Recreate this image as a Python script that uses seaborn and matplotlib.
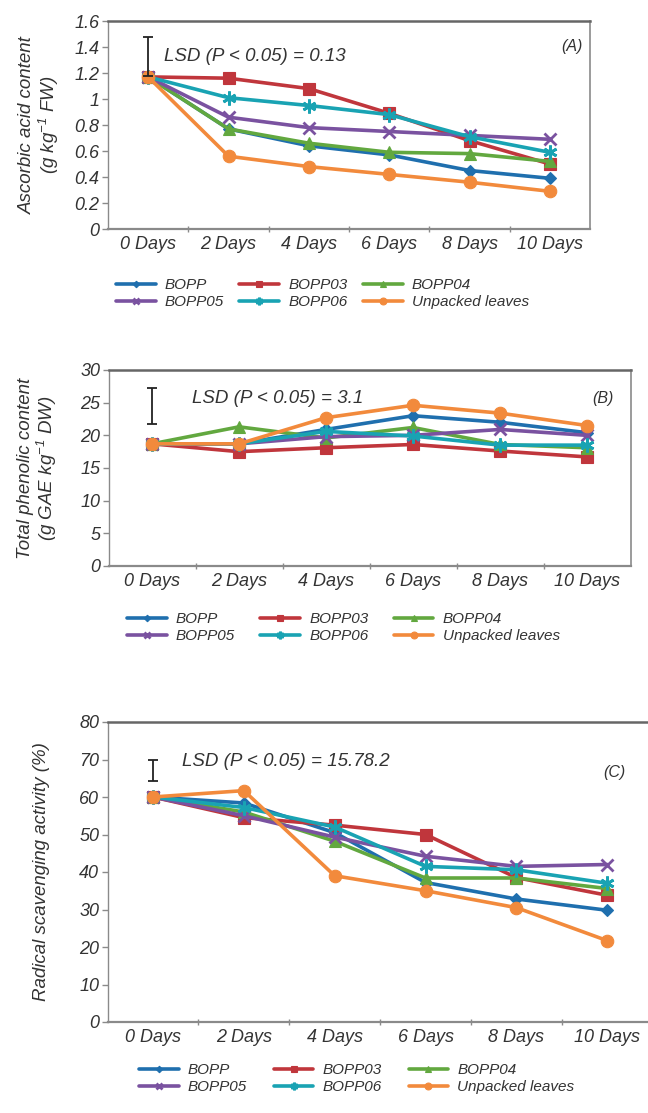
import matplotlib
matplotlib.use("Agg")
import matplotlib.pyplot as plt
from matplotlib import font_manager
import numpy as np
import pandas as pd
import seaborn as sns
from matplotlib.ticker import FixedLocator, FuncFormatter

# ---------------- data ----------------
days = ["0 Days", "2 Days", "4 Days", "6 Days", "8 Days", "10 Days"]
treatments = ["BOPP", "BOPP03", "BOPP04", "BOPP05", "BOPP06", "Unpacked leaves"]

# (A) Ascorbic acid content (g kg-1 FW)
asc_bopp = [1.17, 0.77, 0.64, 0.57, 0.45, 0.39]
asc_bopp03 = [1.17, 1.16, 1.08, 0.89, 0.68, 0.50]
asc_bopp04 = [1.17, 0.77, 0.66, 0.59, 0.58, 0.52]
asc_bopp05 = [1.17, 0.86, 0.78, 0.75, 0.72, 0.69]
asc_bopp06 = [1.17, 1.01, 0.95, 0.88, 0.71, 0.59]
asc_unpacked = [1.17, 0.56, 0.48, 0.42, 0.36, 0.29]

# (B) Total phenolic content (g GAE kg-1 DW)
phe_bopp = [18.7, 18.7, 20.9, 23.0, 22.0, 20.4]
phe_bopp03 = [18.7, 17.5, 18.1, 18.6, 17.6, 16.7]
phe_bopp04 = [18.7, 21.3, 19.6, 21.2, 18.6, 18.1]
phe_bopp05 = [18.7, 18.7, 19.8, 20.0, 20.9, 20.0]
phe_bopp06 = [18.7, 18.7, 20.6, 19.9, 18.5, 18.5]
phe_unpacked = [18.7, 18.7, 22.7, 24.6, 23.4, 21.5]

# (C) Radical scavenging activity (%)
rsa_bopp = [60.0, 58.4, 50.5, 37.2, 32.8, 29.8]
rsa_bopp03 = [60.0, 54.5, 52.5, 50.0, 38.5, 33.8]
rsa_bopp04 = [60.0, 56.0, 48.2, 38.4, 38.4, 35.6]
rsa_bopp05 = [60.0, 55.0, 49.3, 44.2, 41.5, 42.0]
rsa_bopp06 = [60.0, 57.2, 52.0, 41.5, 40.6, 37.0]
rsa_unpacked = [60.0, 61.7, 39.0, 35.0, 30.5, 21.7]

# LSD bars (low, high) and texts
lsd_a = (1.18, 1.48)
lsd_b = (21.7, 27.3)
lsd_c = (64.4, 69.8)
lsd_text = ["LSD (P < 0.05) = 0.13", "LSD (P < 0.05) = 3.1", "LSD (P < 0.05) = 15.78.2"]

# ---------------- style ----------------
sns.set_theme(style="white")

# pick a sans family that really has an italic face
_italic_fams = {f.name for f in font_manager.fontManager.ttflist
                if f.style in ("italic", "oblique")}
FAM = "DejaVu Sans"
for cand in ["Liberation Sans", "Roboto", "Noto Sans", "Open Sans", "Lato", "Inter"]:
    if cand in _italic_fams:
        FAM = cand
        break
plt.rcParams["font.family"] = [FAM, "DejaVu Sans"]
plt.rcParams["font.style"] = "italic"
plt.rcParams["mathtext.fontset"] = "custom"
plt.rcParams["mathtext.it"] = FAM + ":italic"
plt.rcParams["mathtext.rm"] = FAM + ":italic"
plt.rcParams["mathtext.default"] = "it"

palette = {
    "BOPP": "#1f6fae",
    "BOPP03": "#c0363c",
    "BOPP04": "#62a83f",
    "BOPP05": "#7a52a0",
    "BOPP06": "#19a3b3",
    "Unpacked leaves": "#f28a3c",
}
# seaborn needs all-filled markers; line-art ones are swapped in afterwards
markers_sns = {
    "BOPP": "D",
    "BOPP03": "s",
    "BOPP04": "^",
    "BOPP05": "X",
    "BOPP06": "P",
    "Unpacked leaves": "o",
}
markers_final = {
    "BOPP": "D",
    "BOPP03": "s",
    "BOPP04": "^",
    "BOPP05": "x",
    "BOPP06": (6, 2, 0),
    "Unpacked leaves": "o",
}
msizes = {"BOPP": 6, "BOPP03": 9, "BOPP04": 8, "BOPP05": 9, "BOPP06": 10, "Unpacked leaves": 9}

TXT = "#333333"
SPINE = "#8a8a8a"
TICK_FS = 13
LAB_FS = 13.5
LSD_FS = 13.5
LEG_FS = 11


def make_df(series):
    rows = []
    for t, vals in zip(treatments, series):
        for i, v in enumerate(vals):
            rows.append({"day": i, "value": v, "treatment": t})
    return pd.DataFrame(rows)


fig = plt.figure(figsize=(6.48, 11.13), dpi=100)
W, H = 648.0, 1113.0


def px_axes(left, top, right, bottom):
    return fig.add_axes([left / W, 1 - bottom / H, (right - left) / W, (bottom - top) / H])


axA = px_axes(108, 21, 590, 229)
axB = px_axes(108.5, 370, 630.5, 566)
axC = px_axes(107.6, 722, 652.6, 1022)

panels = [
    (axA, [asc_bopp, asc_bopp03, asc_bopp04, asc_bopp05, asc_bopp06, asc_unpacked],
     np.arange(0, 1.61, 0.2), (0, 1.6), "Ascorbic acid content\n(g kg$^{-1}$ FW)",
     lsd_a, lsd_text[0], (0.2, 1.33), "(A)", (0.985, 0.875), (-0.098, 0.5),
     (0.445, -0.17), 1.0),
    (axB, [phe_bopp, phe_bopp03, phe_bopp04, phe_bopp05, phe_bopp06, phe_unpacked],
     np.arange(0, 31, 5), (0, 30), "Total phenolic content\n(g GAE kg$^{-1}$ DW)",
     lsd_b, lsd_text[1], (0.46, 25.6), "(B)", (0.967, 0.857), (-0.095, 0.5),
     (0.45, -0.165), 1.65),
    (axC, [rsa_bopp, rsa_bopp03, rsa_bopp04, rsa_bopp05, rsa_bopp06, rsa_unpacked],
     np.arange(0, 81, 10), (0, 80), "Radical scavenging activity (%)",
     lsd_c, lsd_text[2], (0.32, 69.6), "(C)", (0.95, 0.83), (-0.106, 0.5),
     (0.457, -0.092), 1.75),
]

order = [0, 3, 1, 4, 2, 5]  # row-major display with ncol=3

for (ax, series, yticks, ylim, ylabel, lsd, ltxt, lpos, tag, tagpos,
     labcoords, legpos, colsp) in panels:
    df = make_df(series)
    sns.lineplot(data=df, x="day", y="value", hue="treatment", style="treatment",
                 hue_order=treatments, style_order=treatments,
                 palette=palette, markers=markers_sns, dashes=False,
                 linewidth=2.6, errorbar=None, legend=False, ax=ax)
    lines = list(ax.lines[:6])
    for ln, t in zip(lines, treatments):
        c = palette[t]
        ln.set_color(c)
        ln.set_marker(markers_final[t])
        ln.set_markersize(msizes[t])
        ln.set_markeredgecolor(c)
        ln.set_markerfacecolor(c)
        ln.set_markeredgewidth(2.0 if t in ("BOPP05", "BOPP06") else 0.8)
        ln.set_solid_joinstyle("round")

    # LSD error bar
    mid = (lsd[0] + lsd[1]) / 2
    half = (lsd[1] - lsd[0]) / 2
    ax.errorbar([0], [mid], yerr=[half], fmt="none", ecolor="#222222",
                elinewidth=1.3, capsize=3.5, capthick=1.3, zorder=5)
    ax.text(lpos[0], lpos[1], ltxt, fontsize=LSD_FS, color=TXT, style="italic",
            va="center", ha="left")
    ax.text(tagpos[0], tagpos[1], tag, transform=ax.transAxes, fontsize=11.5,
            color=TXT, style="italic", ha="right", va="center")

    ax.set_xlim(-0.5, 5.5)
    ax.set_ylim(*ylim)
    ax.set_xticks(range(6))
    ax.set_xticklabels(days)
    ax.xaxis.set_minor_locator(FixedLocator(np.arange(0.5, 5.0, 1.0)))
    ax.tick_params(axis="x", which="major", length=0, pad=5, labelsize=TICK_FS,
                   labelcolor=TXT)
    ax.tick_params(axis="x", which="minor", length=4, direction="inout",
                   color=SPINE, width=1, bottom=True)
    ax.set_yticks(yticks)
    ax.yaxis.set_major_formatter(FuncFormatter(lambda v, p: f"{v:g}"))
    ax.tick_params(axis="y", length=4, direction="out", color=SPINE, width=1,
                   labelsize=TICK_FS, labelcolor=TXT, pad=2, left=True)
    for lab in ax.get_xticklabels() + ax.get_yticklabels():
        lab.set_style("italic")
    ax.set_xlabel("")
    ax.set_ylabel(ylabel, fontsize=LAB_FS, color=TXT, style="italic",
                  linespacing=1.05)
    ax.yaxis.set_label_coords(*labcoords)

    for s in ["left", "bottom", "top", "right"]:
        ax.spines[s].set_color(SPINE)
    ax.spines["left"].set_linewidth(1.0)
    ax.spines["bottom"].set_linewidth(1.6)
    ax.spines["top"].set_linewidth(1.8)
    ax.spines["top"].set_color("#666666")
    ax.spines["right"].set_linewidth(1.2)
    if ax is axC:
        ax.spines["right"].set_visible(False)

    leg = ax.legend(handles=[lines[i] for i in order],
                    labels=[treatments[i] for i in order],
                    ncol=3, loc="upper center", bbox_to_anchor=legpos,
                    frameon=False, fontsize=LEG_FS, handlelength=2.6,
                    handletextpad=0.6, columnspacing=colsp, labelspacing=0.2,
                    markerscale=0.55)
    for txt in leg.get_texts():
        txt.set_color(TXT)
        txt.set_style("italic")

fig.savefig("out.png", dpi=100)
